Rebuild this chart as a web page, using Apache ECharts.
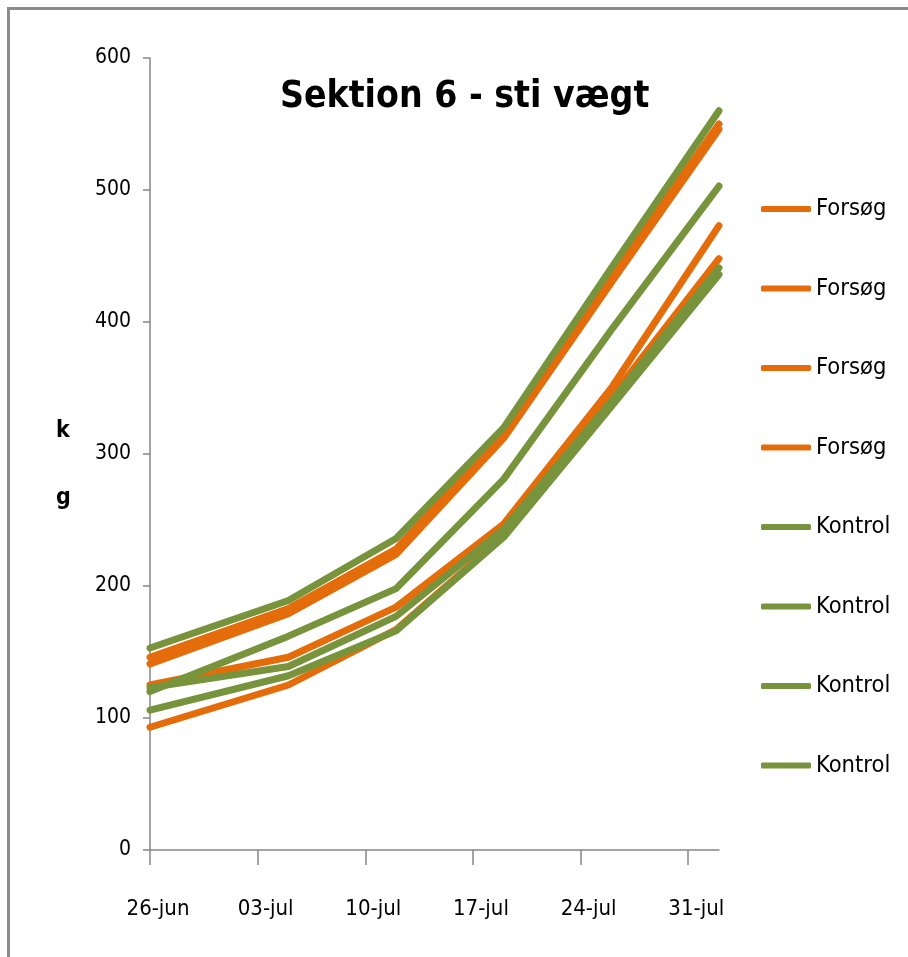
<!DOCTYPE html>
<html>
<head>
<meta charset="utf-8">
<script src="https://cdn.jsdelivr.net/npm/echarts@6/dist/echarts.min.js"></script>
<style>
html,body{margin:0;padding:0;background:#fff;}
#wrap{position:relative;width:908px;height:957px;overflow:hidden;}
#c{position:absolute;left:0;top:0;width:908px;height:957px;}
#frame{position:absolute;left:7px;top:7px;width:1000px;height:1000px;border-top:3px solid #8c8c8c;border-left:3px solid #8c8c8c;pointer-events:none;}
</style>
</head>
<body>
<div id="wrap"><div id="c"></div><div id="frame"></div></div>
<script>
// ---- data ----
const dates = ['2013-06-26', '2013-07-05', '2013-07-12', '2013-07-19', '2013-07-26', '2013-08-02'];
const tickLabels = ['26-jun', '03-jul', '10-jul', '17-jul', '24-jul', '31-jul'];
const titleText = 'Sektion 6 - sti vægt';
const yName = 'k\ng';

const forsog1 = [146, 183, 228, 316, 435, 550];
const forsog2 = [141, 179, 224, 312, 430, 546];
const forsog3 = [125, 146, 184, 247, 350, 473];
const forsog4 = [93, 125, 167, 238, 343, 448];
const kontrol1 = [153, 189, 236, 320, 441, 560];
const kontrol2 = [120, 162, 198, 281, 394, 503];
const kontrol3 = [123, 139, 177, 243, 340, 441];
const kontrol4 = [106, 132, 166, 237, 336, 436];

const seriesLabels = ['Forsøg', 'Forsøg', 'Forsøg', 'Forsøg', 'Kontrol', 'Kontrol', 'Kontrol', 'Kontrol'];
const seriesValues = [forsog1, forsog2, forsog3, forsog4, kontrol1, kontrol2, kontrol3, kontrol4];

// ---- build ----
const ORANGE = '#E46C0A';
const GREEN = '#77933C';
const FONT = "'Liberation Sans Narrow', 'DejaVu Sans Condensed', 'Liberation Sans', sans-serif";
const DAY = 86400000;
const t0 = Date.parse(dates[0]);
const dayOffsets = dates.map(d => Math.round((Date.parse(d) - t0) / DAY));
const tickDays = tickLabels.map((_, i) => i * 7);

const series = seriesValues.map((vals, i) => ({
  name: seriesLabels[i] + '#' + (i + 1),
  type: 'line',
  showSymbol: false,
  symbol: 'none',
  silent: true,
  lineStyle: { width: 7, color: seriesLabels[i] === 'Forsøg' ? ORANGE : GREEN, cap: 'round', join: 'round' },
  itemStyle: { color: seriesLabels[i] === 'Forsøg' ? ORANGE : GREEN },
  data: vals.map((v, j) => [dayOffsets[j], v])
}));

const chart = echarts.init(document.getElementById('c'), null, { renderer: 'canvas' });
chart.setOption({
  animation: false,
  backgroundColor: '#ffffff',
  title: {
    text: titleText,
    left: 275,
    top: 74,
    textStyle: { fontFamily: FONT, fontSize: 37, fontWeight: 'bold', color: '#000' }
  },
  legend: {
    orient: 'vertical',
    left: 756,
    top: 192,
    icon: 'roundRect',
    itemWidth: 50,
    itemHeight: 6,
    itemGap: 55.5,
    data: series.map(s => s.name),
    formatter: name => name.split('#')[0],
    textStyle: { fontFamily: FONT, fontSize: 23.5, lineHeight: 24, color: '#000' }
  },
  graphic: [{
    type: 'text',
    left: 56,
    top: 398,
    silent: true,
    style: { text: yName, font: "bold 23px " + FONT, lineHeight: 67, fill: '#000' }
  }],
  grid: { left: 150, right: 189, top: 58, bottom: 107, containLabel: false },
  xAxis: {
    type: 'value',
    min: 0,
    max: dayOffsets[dayOffsets.length - 1],
    interval: 7,
    splitLine: { show: false },
    axisLine: { lineStyle: { color: '#868686', width: 1.5 } },
    axisTick: { length: 15, lineStyle: { color: '#868686', width: 1.5 }, customValues: tickDays },
    axisLabel: {
      customValues: tickDays,
      formatter: v => tickLabels[Math.round(v / 7)] || '',
      margin: 48,
      padding: [0, 0, 0, 16],
      fontFamily: FONT, fontSize: 22, color: '#000'
    }
  },
  yAxis: {
    type: 'value',
    min: 0,
    max: 600,
    interval: 100,
    splitLine: { show: false },
    axisLine: { show: true, lineStyle: { color: '#868686', width: 1.5 } },
    axisTick: { show: true, length: 7, lineStyle: { color: '#868686', width: 1.5 } },
    axisLabel: { margin: 19, fontFamily: FONT, fontSize: 21, color: '#000' }
  },
  series: series
});
</script>
</body>
</html>
